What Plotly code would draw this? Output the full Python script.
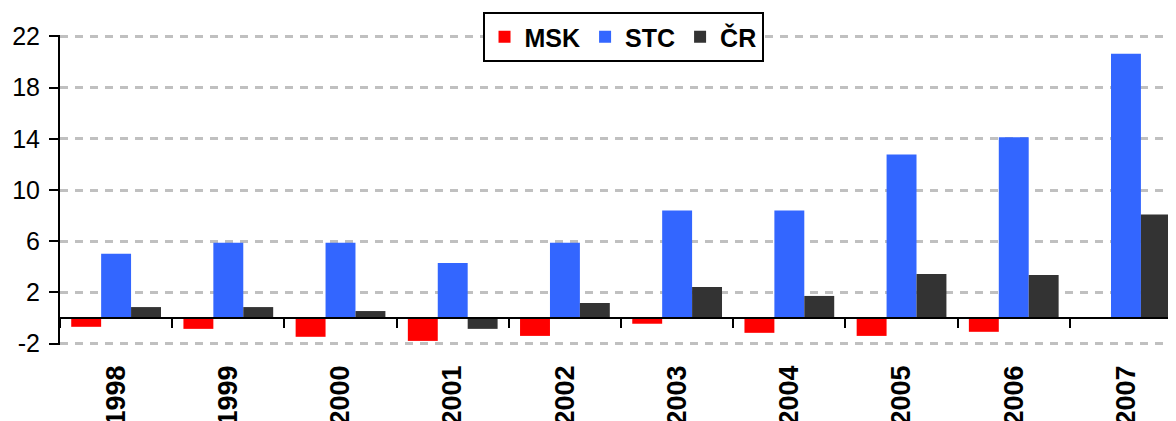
import plotly.graph_objects as go

years = ["1998", "1999", "2000", "2001", "2002", "2003", "2004", "2005", "2006", "2007"]
msk = [-0.68, -0.84, -1.46, -1.78, -1.39, -0.44, -1.15, -1.39, -1.07, 0.0]
stc = [5.02, 5.88, 5.88, 4.31, 5.88, 8.39, 8.39, 12.78, 14.12, 20.63]
cr = [0.86, 0.86, 0.55, -0.84, 1.18, 2.43, 1.73, 3.45, 3.37, 8.08]
series_names = ["MSK", "STC", "ČR"]
colors = ["#FF0000", "#3366FF", "#333333"]
y_ticks = [-2, 2, 6, 10, 14, 18, 22]

fig = go.Figure()
for name, vals, col in zip(series_names, [msk, stc, cr], colors):
    fig.add_trace(go.Bar(x=years, y=vals, name=name, marker=dict(color=col, line=dict(width=0)),
                         xaxis="x", yaxis="y"))

# helper trace to carry the category axis drawn at the zero line
fig.add_trace(go.Scatter(x=years, y=[0] * len(years), mode="markers", marker=dict(opacity=0),
                         showlegend=False, hoverinfo="skip", xaxis="x2", yaxis="y"))

x_range = [-0.5, 9.446]
y_min, y_max = -2.1, 22.1

FONT = "Arial, Liberation Sans, sans-serif"
PLOT_H = 310

# the page body has an 8px default margin; compensate so the plot area lands where the reference has it
fig.update_layout(
    template="none",
    width=1168, height=413,
    margin=dict(l=52, r=0, t=27, b=413 - 27 - PLOT_H, autoexpand=False),
    paper_bgcolor="white", plot_bgcolor="white",
    barmode="group", bargap=0.2, bargroupgap=0,
    font=dict(family=FONT, color="black"),
    showlegend=True,
    legend=dict(
        orientation="h", x=0.5045, xanchor="center", y=1 + 23 / PLOT_H, yanchor="top",
        bordercolor="black", borderwidth=2, bgcolor="white",
        font=dict(size=25, family=FONT, weight="bold"),
        itemsizing="constant", tracegroupgap=0,
    ),
    xaxis=dict(
        type="category", range=x_range, showline=False, showgrid=False, zeroline=False,
        ticks="", tickangle=-90, ticklabelstandoff=14,
        tickfont=dict(size=27, family=FONT, weight="bold"),
        automargin=False,
    ),
    xaxis2=dict(
        type="category", range=x_range, overlaying="x", anchor="free",
        position=(0 - y_min) / (y_max - y_min),
        showline=True, linecolor="black", linewidth=2,
        ticks="outside", tickson="boundaries", ticklen=9, tickwidth=2, tickcolor="black",
        showticklabels=False, showgrid=False, zeroline=False, automargin=False,
    ),
    yaxis=dict(
        range=[y_min, y_max], tickvals=y_ticks, ticktext=[str(v) for v in y_ticks],
        showline=True, linecolor="black", linewidth=2,
        ticks="outside", ticklen=9, tickwidth=2, tickcolor="black",
        showgrid=True, gridcolor="#C0C0C0", gridwidth=2.5, griddash="8px,7px",
        zeroline=False, ticklabelstandoff=4,
        tickfont=dict(size=25, family=FONT),
        automargin=False,
    ),
)

fig.write_html("out.html")
